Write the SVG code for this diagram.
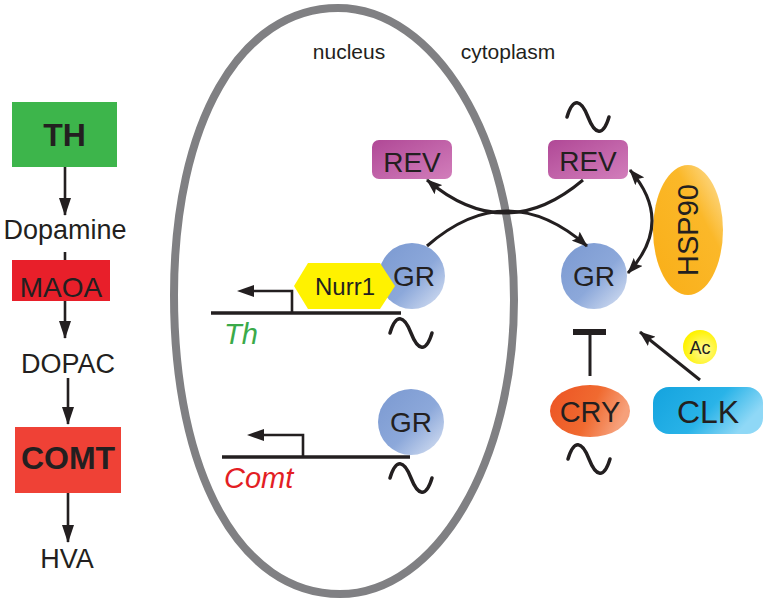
<svg xmlns="http://www.w3.org/2000/svg" width="768" height="603" viewBox="0 0 768 603">
<defs>
<style>
text{font-family:"Liberation Sans",Arial,sans-serif;fill:#231f20}
.lbl{font-size:27px;text-anchor:middle}
.gr{font-size:28px;text-anchor:middle}
.cn{stroke:#231f20;stroke-width:3;fill:none}
.ln{stroke:#231f20;stroke-width:2.6;fill:none}
.gene{stroke:#231f20;stroke-width:3.5;fill:none}
.wave{stroke:#231f20;stroke-width:3.5;fill:none;stroke-linecap:round}
</style>
<marker id="ah" viewBox="0 0 16 12" refX="15" refY="6" markerWidth="16" markerHeight="12" markerUnits="userSpaceOnUse" orient="auto-start-reverse"><path d="M0,0 L16,6 L0,12 L3,6 z" fill="#231f20"/></marker>
<marker id="ahL" viewBox="0 0 12 18" refX="6" refY="17" markerWidth="12" markerHeight="18" markerUnits="userSpaceOnUse" orient="0"><path d="M0,0 L12,0 L6,18 z" fill="#231f20"/></marker>
<marker id="ahG" viewBox="0 0 14 12" refX="13" refY="6" markerWidth="14" markerHeight="12" markerUnits="userSpaceOnUse" orient="auto"><path d="M0,0 L14,6 L0,12 z" fill="#231f20"/></marker>
<linearGradient id="gGR" x1="0" y1="0" x2="1" y2="1"><stop offset="0" stop-color="#7b99d1"/><stop offset="0.55" stop-color="#8ca8da"/><stop offset="1" stop-color="#dbe4f4"/></linearGradient>
<linearGradient id="gREV" x1="0" y1="0" x2="1" y2="1"><stop offset="0" stop-color="#b04896"/><stop offset="1" stop-color="#d27ebb"/></linearGradient>
<linearGradient id="gHSP" x1="1" y1="0" x2="0" y2="1"><stop offset="0" stop-color="#fde3a6"/><stop offset="0.35" stop-color="#fbb829"/><stop offset="1" stop-color="#f9ae17"/></linearGradient>
<linearGradient id="gCRY" x1="0" y1="0" x2="1" y2="0.3"><stop offset="0" stop-color="#ec5323"/><stop offset="0.6" stop-color="#f06a30"/><stop offset="1" stop-color="#f6a07a"/></linearGradient>
<linearGradient id="gCLK" x1="0" y1="0" x2="1" y2="0.4"><stop offset="0" stop-color="#14a3de"/><stop offset="0.6" stop-color="#29b3e8"/><stop offset="1" stop-color="#8fd8f6"/></linearGradient>
<radialGradient id="gAc" cx="0.6" cy="0.6" r="0.6"><stop offset="0" stop-color="#fffb9a"/><stop offset="1" stop-color="#fff200"/></radialGradient>
<path id="wv" d="M0,15 C6,-5 14,-3 21,15 S36,35 42,15"/>
</defs>

<!-- cell nucleus membrane -->
<path id="membrane" d="M338,8 C435,8 514,139 514,300 C514,461 437,594 340,594 C240,594 174,474 174,295 C174,123 240,8 338,8 Z" fill="none" stroke="#808083" stroke-width="8"/>
<text x="349" y="59" style="font-size:21px;text-anchor:middle">nucleus</text>
<text x="508" y="59" style="font-size:21px;text-anchor:middle">cytoplasm</text>

<!-- left pathway -->
<g id="pathway-connectors">
<line class="ln" x1="65" y1="167" x2="65" y2="215" marker-end="url(#ahL)"/>
<line class="ln" x1="65" y1="252" x2="65" y2="338" marker-end="url(#ahL)"/>
<line class="ln" x1="68" y1="378" x2="68" y2="424" marker-end="url(#ahL)"/>
<line class="ln" x1="68" y1="493" x2="68" y2="542" marker-end="url(#ahL)"/>
</g>
<g id="TH"><rect x="12" y="102" width="105" height="65" fill="#3db54b"/><text x="64.5" y="146" style="font-size:32px;font-weight:bold;text-anchor:middle">TH</text></g>
<g id="Dopamine"><text class="lbl" x="65" y="239">Dopamine</text></g>
<g id="MAOA"><rect x="12" y="260" width="98" height="41" fill="#e81f2a"/><text x="61" y="297" style="font-size:28px;text-anchor:middle">MAOA</text></g>
<g id="DOPAC"><text class="lbl" x="68" y="373">DOPAC</text></g>
<g id="COMT"><rect x="15" y="427" width="106" height="66" fill="#ef4136"/><text x="68" y="469" style="font-size:32px;font-weight:bold;text-anchor:middle">COMT</text></g>
<g id="HVA"><text class="lbl" x="67" y="568">HVA</text></g>

<!-- Th gene -->
<g id="Th-gene">
<line class="gene" x1="211" y1="313" x2="401" y2="313"/>
<path class="ln" d="M292,313 V291 H251" stroke-width="3"/>
<path d="M237,291 L254,285 L254,297 z" fill="#231f20"/>
<text x="224" y="344" style="font-size:29px;font-style:italic;fill:#3aaa49">Th</text>
<use href="#wv" class="wave" transform="translate(390,318)"/>
</g>
<g id="GR-Th"><circle cx="412" cy="276" r="33" fill="url(#gGR)"/></g>
<g id="Nurr1"><polygon points="294,286 308,263 380,263 395,286 380,309 308,309" fill="#fff200"/><text x="345" y="295" style="font-size:24px;text-anchor:middle">Nurr1</text></g>
<text class="gr" x="414" y="286">GR</text>

<!-- Comt gene -->
<g id="Comt-gene">
<line class="gene" x1="222" y1="457" x2="410" y2="457"/>
<path class="ln" d="M303,457 V435 H261" stroke-width="3"/>
<path d="M247,435 L264,429 L264,441 z" fill="#231f20"/>
<text x="224" y="488" style="font-size:29px;font-style:italic;fill:#e31e24">Comt</text>
<use href="#wv" class="wave" transform="translate(390,463)"/>
</g>
<g id="GR-Comt"><circle cx="411" cy="422" r="33" fill="url(#gGR)"/><text class="gr" x="411" y="432">GR</text></g>

<!-- cytoplasm nodes -->
<g id="REV-nuc"><rect x="372" y="140" width="80" height="39" rx="7" fill="url(#gREV)"/><text x="412" y="172" style="font-size:28px;text-anchor:middle">REV</text></g>
<g id="REV-cyt"><rect x="548" y="140" width="80" height="39" rx="7" fill="url(#gREV)"/><text x="588" y="171" style="font-size:28px;text-anchor:middle">REV</text>
<use href="#wv" class="wave" transform="translate(567,102)"/></g>
<g id="HSP90"><ellipse cx="688" cy="230" rx="35" ry="65" fill="url(#gHSP)"/><text x="0" y="0" transform="translate(698,230) rotate(-90)" style="font-size:29px;text-anchor:middle">HSP90</text></g>
<g id="GR-cyt"><circle cx="594" cy="276" r="33" fill="url(#gGR)"/><text class="gr" x="594" y="286">GR</text></g>
<g id="CRY"><ellipse cx="590" cy="411" rx="40" ry="26" fill="url(#gCRY)"/><text x="590" y="422" style="font-size:29px;text-anchor:middle">CRY</text>
<use href="#wv" class="wave" transform="translate(568,444)"/></g>
<g id="CLK"><rect x="653" y="387" width="110" height="47" rx="16" fill="url(#gCLK)"/><text x="708" y="423" style="font-size:32px;text-anchor:middle">CLK</text></g>
<g id="Ac"><circle cx="700" cy="347" r="17" fill="url(#gAc)"/><text x="700" y="354" style="font-size:18px;text-anchor:middle">Ac</text></g>

<!-- connectors -->
<g id="connectors">
<path class="cn" d="M427,246 Q507,176 587,246" marker-end="url(#ah)"/>
<path class="cn" d="M583,180 Q505,246 427,180" marker-end="url(#ah)"/>
<path class="cn" d="M630,170 Q675,222 628,273" marker-start="url(#ah)" marker-end="url(#ah)"/>
<line class="cn" x1="590" y1="376" x2="590" y2="333"/>
<rect x="573" y="329" width="33" height="6" fill="#231f20"/>
<line class="cn" x1="700" y1="380" x2="640" y2="332" marker-end="url(#ah)"/>
</g>
</svg>
